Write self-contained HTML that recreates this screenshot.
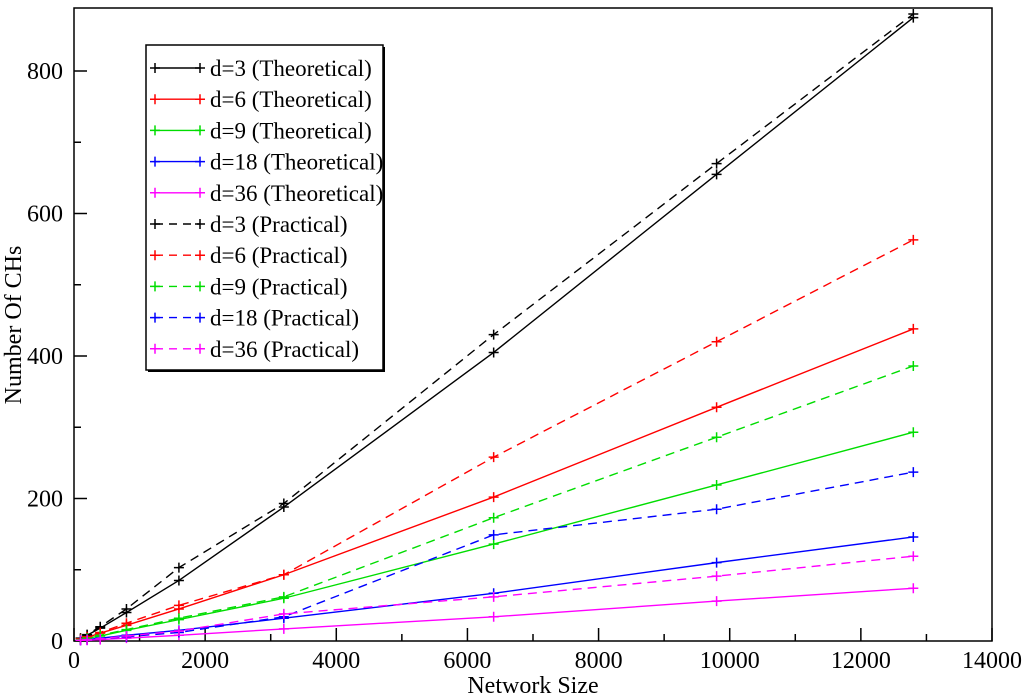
<!DOCTYPE html>
<html><head><meta charset="utf-8"><style>
html,body{margin:0;padding:0;background:#fff}
svg{display:block;font-family:"Liberation Serif",serif}
</style></head><body>
<svg id="chart" width="1024" height="695" viewBox="0 0 1024 695">
</svg>
<script>
const xValues=[100,200,400,800,1600,3200,6400,9800,12800];
const seriesNames=["d=3 (Theoretical)","d=6 (Theoretical)","d=9 (Theoretical)","d=18 (Theoretical)","d=36 (Theoretical)","d=3 (Practical)","d=6 (Practical)","d=9 (Practical)","d=18 (Practical)","d=36 (Practical)"];
const d3T=[3,8,18,40,85,188,405,655,875];
const d6T=[2,5,11,22,45,93,202,328,438];
const d9T=[2,4,7,15,30,60,136,219,293];
const d18T=[1,2,4,8,15,32,67,110,146];
const d36T=[1,1,2,4,8,17,34,56,74];
const d3P=[4,9,20,45,103,193,430,670,880];
const d6P=[3,6,12,25,50,93,258,420,563];
const d9P=[2,4,8,16,32,62,173,286,386];
const d18P=[1,2,3,6,12,34,149,185,237];
const d36P=[1,2,3,7,14,38,62,91,119];
const xTicks=[0,2000,4000,6000,8000,10000,12000,14000];
const yTicks=[0,200,400,600,800];
const colors=["#000","#f00","#0d0","#00f","#f0f"];
const allSeries=[d3T,d6T,d9T,d18T,d36T,d3P,d6P,d9P,d18P,d36P];
const X0=74,X1=992,Y0=641,Ytop=8;
const sx=v=>X0+v*(X1-X0)/14000;
const sy=v=>Y0-v*0.7125;
const NS="http://www.w3.org/2000/svg";
const svg=document.getElementById('chart');
function mk(t,a,p){const e=document.createElementNS(NS,t);for(const k in a)e.setAttribute(k,a[k]);(p||svg).appendChild(e);return e;}
const fr=mk('rect',{x:X0,y:Ytop,width:X1-X0,height:Y0-Ytop,fill:'none',stroke:'#000','stroke-width':1.5});


for(let v=0;v<=14000;v+=1000){const major=v%2000===0;const x=sx(v);
 const t=mk('line',{x1:x,x2:x,y1:Y0,y2:Y0-(major?13:7),stroke:'#000','stroke-width':1.5});
 
 }
xTicks.forEach(v=>{const t=mk('text',{x:sx(v),y:668,'text-anchor':'middle','font-size':24});t.textContent=v;
 
 });
for(let v=0;v<=800;v+=100){const major=v%200===0;const y=sy(v);
 const t=mk('line',{x1:X0,x2:X0+(major?13:7),y1:y,y2:y,stroke:'#000','stroke-width':1.5});
 
 }
yTicks.forEach(v=>{const t=mk('text',{x:63,y:sy(v)+8,'text-anchor':'end','font-size':24});t.textContent=v;
 
 });
const xt=mk('text',{x:533,y:693,'text-anchor':'middle','font-size':24});xt.textContent='Network Size';


const yt=mk('text',{x:0,y:0,'text-anchor':'middle','font-size':24,transform:'translate(21,325) rotate(-90)'});yt.textContent='Number Of CHs';


function plus(g,x,y,c){mk('path',{d:`M${x-5},${y}H${x+5}M${x},${y-5}V${y+5}`,stroke:c,'stroke-width':1.5},g);}
allSeries.forEach((s,i)=>{const c=colors[i%5];const dashed=i>=5;
 const g=mk('g',{});
 
 
 const pts=s.map((v,j)=>sx(xValues[j])+','+sy(v)).join(' ');
 const a={points:pts,fill:'none',stroke:c,'stroke-width':1.4};if(dashed)a['stroke-dasharray']='9,6';
 mk('polyline',a,g);
 s.forEach((v,j)=>plus(g,sx(xValues[j]),sy(v),c));
});
const lg=mk('g',{});


mk('rect',{x:148,y:47,width:237,height:325,fill:'#000'},lg);
mk('rect',{x:146,y:45,width:237,height:325,fill:'#fff',stroke:'#000','stroke-width':1.5},lg);
seriesNames.forEach((n,i)=>{const y=68+i*31.2;const c=colors[i%5];
 const e=mk('g',{},lg);
 
 
 const a={x1:155,x2:200,y1:y,y2:y,stroke:c,'stroke-width':1.4};if(i>=5)a['stroke-dasharray']='8,6';
 mk('line',a,e);plus(e,155,y,c);plus(e,200,y,c);
 const t=mk('text',{x:210,y:y+8,'font-size':23},e);t.textContent=n;});
</script>
</body></html>
